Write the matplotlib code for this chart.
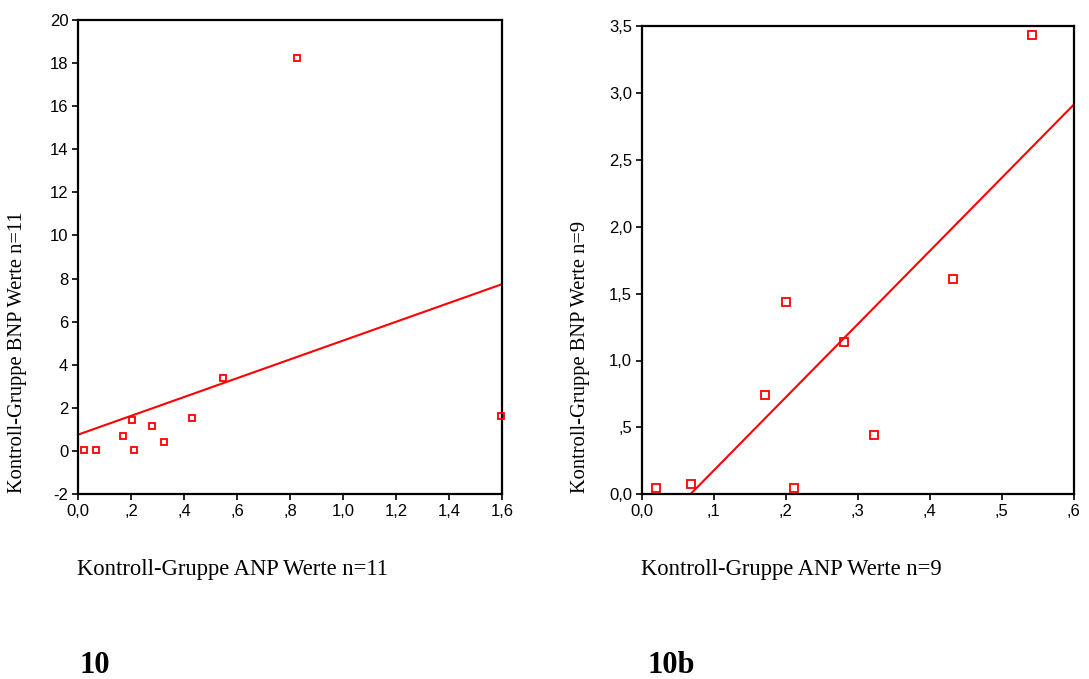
import numpy as np
import matplotlib
matplotlib.use("Agg")
import matplotlib.pyplot as plt
from matplotlib.ticker import FuncFormatter

# Daten Kontroll-Gruppe n=11 (Diagramm 10)
anp_11 = [0.024, 0.069, 0.168, 0.205, 0.213, 0.281, 0.326, 0.432, 0.546, 0.825, 1.596]
bnp_11 = [0.06, 0.06, 0.71, 1.45, 0.06, 1.17, 0.43, 1.54, 3.40, 18.22, 1.64]

# Daten Kontroll-Gruppe n=9 (Diagramm 10b)
anp_9 = [0.020, 0.069, 0.171, 0.201, 0.212, 0.281, 0.322, 0.432, 0.542]
bnp_9 = [0.05, 0.08, 0.74, 1.44, 0.05, 1.14, 0.44, 1.61, 3.43]

x_ticks_11 = [0, 0.2, 0.4, 0.6, 0.8, 1.0, 1.2, 1.4, 1.6]
y_ticks_11 = [-2, 0, 2, 4, 6, 8, 10, 12, 14, 16, 18, 20]
x_ticks_9 = [0, 0.1, 0.2, 0.3, 0.4, 0.5, 0.6]
y_ticks_9 = [0, 0.5, 1.0, 1.5, 2.0, 2.5, 3.0, 3.5]


def spss_fmt(dec):
    # deutsches Komma, führende Null weglassen (SPSS-Stil)
    def f(v, pos):
        if abs(v) < 1e-9:
            return "0," + "0" * dec if dec > 0 else "0"
        s = f"{v:.{dec}f}".replace(".", ",")
        if s.startswith("0,"):
            s = s[1:]
        return s
    return FuncFormatter(f)


def streu(ax, x, y, xlim, ylim, xt, yt, xdec, ydec, ms):
    x = np.array(x)
    y = np.array(y)
    ax.plot(x, y, "s", ms=ms, mfc="none", mec="red", mew=1.3, clip_on=False, zorder=3)
    # Regressionsgerade
    b, a = np.polyfit(x, y, 1)
    xx = np.array(xlim)
    ax.plot(xx, a + b * xx, color="red", lw=1.5)
    ax.set_xlim(xlim)
    ax.set_ylim(ylim)
    ax.set_xticks(xt)
    ax.set_yticks(yt)
    ax.xaxis.set_major_formatter(spss_fmt(xdec))
    ax.yaxis.set_major_formatter(spss_fmt(ydec))
    for sp in ax.spines.values():
        sp.set_linewidth(1.6)
    ax.tick_params(direction="out", length=4, width=1.2, labelsize=12, pad=3)
    for lab in ax.get_xticklabels() + ax.get_yticklabels():
        lab.set_fontfamily("Liberation Sans")


fig = plt.figure(figsize=(10.89, 6.79), dpi=100)

ax1 = fig.add_axes([78 / 1089, 1 - 494 / 679, 424 / 1089, 474 / 679])
streu(ax1, anp_11, bnp_11, (0, 1.6), (-2, 20), x_ticks_11, y_ticks_11, 1, 0, 4.5)

ax2 = fig.add_axes([641.7 / 1089, 1 - 494.3 / 679, 432 / 1089, 468.3 / 679])
streu(ax2, anp_9, bnp_9, (0, 0.6), (0, 3.5), x_ticks_9, y_ticks_9, 1, 1, 5.5)

serif = "Liberation Serif"
fig.text(18 / 1089, 1 - 493 / 679, "Kontroll-Gruppe BNP Werte n=11", rotation=90,
         ha="center", va="bottom", fontsize=14.8, family=serif)
fig.text(580 / 1089, 1 - 493 / 679, "Kontroll-Gruppe BNP Werte n=9", rotation=90,
         ha="center", va="bottom", fontsize=14.8, family=serif)

fig.text(77 / 1089, 1 - 575 / 679, "Kontroll-Gruppe ANP Werte n=11",
         ha="left", va="baseline", fontsize=16.3, family=serif)
fig.text(641 / 1089, 1 - 575 / 679, "Kontroll-Gruppe ANP Werte n=9",
         ha="left", va="baseline", fontsize=16.3, family=serif)

fig.text(80 / 1089, 1 - 673 / 679, "10", ha="left", va="baseline",
         fontsize=22, fontweight="bold", family=serif)
fig.text(648 / 1089, 1 - 673 / 679, "10b", ha="left", va="baseline",
         fontsize=22, fontweight="bold", family=serif)

fig.savefig("out.png", dpi=100)
